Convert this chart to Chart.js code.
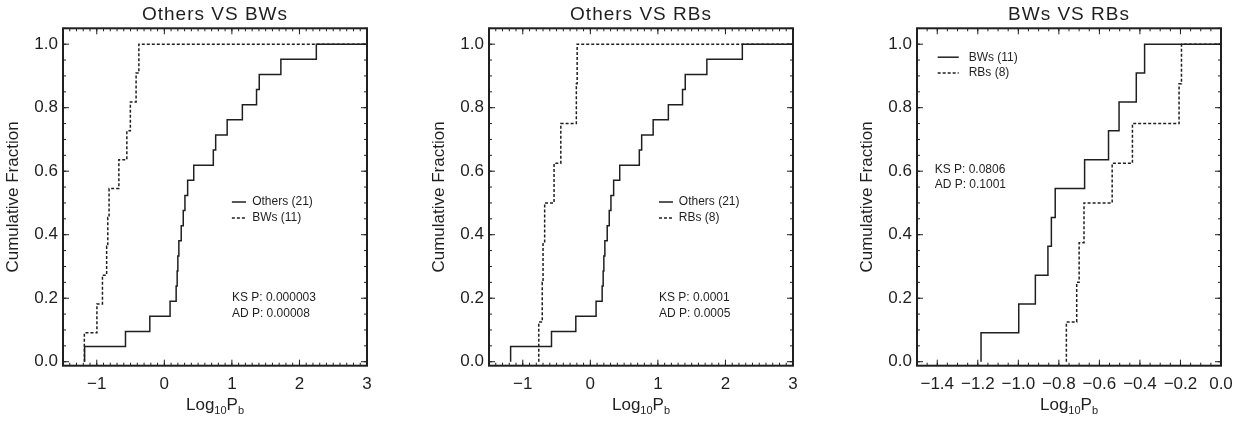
<!DOCTYPE html>
<html>
<head>
<meta charset="utf-8">
<script src="https://cdn.jsdelivr.net/npm/chart.js@4.4.1/dist/chart.umd.min.js"></script>
<style>
  html, body { margin: 0; padding: 0; background: #fff; }
  body { width: 1254px; height: 424px; position: relative; overflow: hidden; }
  .panel { position: absolute; top: 0; width: 387px; height: 424px; }
</style>
</head>
<body>
<div class="panel" style="left:-0.3px"><canvas id="c1"></canvas></div>
<div class="panel" style="left:426.3px"><canvas id="c2"></canvas></div>
<div class="panel" style="left:853.7px"><canvas id="c3"></canvas></div>
<script>
// log10 of orbital period, sorted
const othersPb = [-1.18, -0.575, -0.215, 0.085, 0.175, 0.19, 0.20, 0.215, 0.25, 0.28, 0.305,
                  0.345, 0.435, 0.725, 0.76, 0.93, 1.155, 1.365, 1.405, 1.725, 2.25];
const bwsPb = [-1.184, -0.998, -0.916, -0.854, -0.837, -0.818, -0.673, -0.555, -0.503, -0.418, -0.377];
const rbsPb = [-0.763, -0.712, -0.700, -0.676, -0.537, -0.437, -0.207, -0.195];

const yTicks = [0, 0.2, 0.4, 0.6, 0.8, 1.0];
const xTicksWide = [-1, 0, 1, 2, 3];
const xTicksNarrow = [-1.4, -1.2, -1.0, -0.8, -0.6, -0.4, -0.2, 0.0];

const INK = '#1f1f1f';
const FONT = '"Liberation Sans", Arial, sans-serif';

// empirical cumulative distribution as a stepped line
function ecdf(vals, xmax) {
  const n = vals.length;
  const pts = [{ x: vals[0], y: 0 }];
  vals.forEach((v, i) => pts.push({ x: v, y: (i + 1) / n }));
  pts.push({ x: xmax, y: 1 });
  return pts;
}

const minus = s => s.replace('-', '\u2212');

// box with inward ticks on all four sides, titles and in-plot notes (IDL look)
const idlFrame = {
  id: 'idlFrame',
  afterDraw(chart, args, o) {
    const { ctx, chartArea: a, scales: { x, y } } = chart;
    ctx.save();
    ctx.strokeStyle = INK;
    ctx.fillStyle = INK;

    ctx.lineWidth = 1;
    ctx.beginPath();
    const tickRun = (scale, step, len, isX) => {
      const start = Math.ceil((scale.min - 1e-9) / step) * step;
      for (let v = start; v <= scale.max + 1e-9; v += step) {
        const p = scale.getPixelForValue(v);
        if (isX) {
          ctx.moveTo(p, a.bottom); ctx.lineTo(p, a.bottom - len);
          ctx.moveTo(p, a.top); ctx.lineTo(p, a.top + len);
        } else {
          ctx.moveTo(a.left, p); ctx.lineTo(a.left + len, p);
          ctx.moveTo(a.right, p); ctx.lineTo(a.right - len, p);
        }
      }
    };
    tickRun(x, o.xMinor, 3, true);
    tickRun(x, o.xMajor, 6, true);
    tickRun(y, 0.05, 3, false);
    tickRun(y, 0.2, 6, false);
    ctx.stroke();

    ctx.lineWidth = 2;
    ctx.strokeRect(a.left, a.top, a.right - a.left, a.bottom - a.top);

    const cx = (a.left + a.right) / 2;
    // title
    ctx.font = '19px ' + FONT;
    ctx.letterSpacing = '1px';
    ctx.textAlign = 'center';
    ctx.textBaseline = 'alphabetic';
    ctx.fillText(o.title, cx, 20);
    ctx.letterSpacing = '0px';

    // y axis title
    ctx.save();
    ctx.translate(a.left - 49.5, (a.top + a.bottom) / 2);
    ctx.rotate(-Math.PI / 2);
    ctx.font = '17px ' + FONT;
    ctx.textBaseline = 'middle';
    ctx.fillText('Cumulative Fraction', 0, 0);
    ctx.restore();

    // x axis title Log10Pb with subscripts
    const parts = [['Log', 17, 0], ['10', 11, 4], ['P', 17, 0], ['b', 11, 4]];
    let w = 0;
    parts.forEach(p => { ctx.font = p[1] + 'px ' + FONT; w += ctx.measureText(p[0]).width; });
    let px = cx - w / 2;
    ctx.textAlign = 'left';
    parts.forEach(p => {
      ctx.font = p[1] + 'px ' + FONT;
      ctx.fillText(p[0], px, 410 + p[2]);
      px += ctx.measureText(p[0]).width;
    });

    // legend
    ctx.font = '12px ' + FONT;
    ctx.textBaseline = 'middle';
    ctx.lineWidth = 1.5;
    o.legend.forEach(item => {
      const yy = y.getPixelForValue(item.y);
      ctx.setLineDash(item.dash);
      ctx.beginPath();
      ctx.moveTo(x.getPixelForValue(o.legX[0]), yy);
      ctx.lineTo(x.getPixelForValue(o.legX[1]), yy);
      ctx.stroke();
      ctx.setLineDash([]);
      ctx.fillText(item.text, x.getPixelForValue(o.legX[2]), yy);
    });
    o.notes.forEach(n => ctx.fillText(n.text, x.getPixelForValue(o.noteX), y.getPixelForValue(n.y)));
    ctx.restore();
  }
};

function makeChart(id, cfg) {
  new Chart(document.getElementById(id), {
    type: 'line',
    data: {
      datasets: [
        { data: ecdf(cfg.solid, cfg.xmax), borderColor: INK, borderWidth: 1.5,
          stepped: 'before', pointRadius: 0, fill: false },
        { data: ecdf(cfg.dashed, cfg.xmax), borderColor: INK, borderWidth: 1.5,
          borderDash: [3, 2], stepped: 'before', pointRadius: 0, fill: false }
      ]
    },
    options: {
      responsive: true,
      maintainAspectRatio: false,
      animation: false,
      events: [],
      layout: { padding: { top: 28.3, right: 20, bottom: 18.3, left: 0 } },
      scales: {
        x: {
          type: 'linear', min: cfg.xmin, max: cfg.xmax,
          afterBuildTicks: s => { s.ticks = cfg.xTicks.map(v => ({ value: v })); },
          afterFit: s => { s.height = 40; },
          grid: { display: false, drawTicks: false },
          border: { display: false },
          ticks: {
            autoSkip: false, maxRotation: 0, padding: 8, color: INK,
            font: { family: FONT, size: 17 },
            callback: v => minus(cfg.xDigits ? v.toFixed(cfg.xDigits) : String(v))
          }
        },
        y: {
          min: -0.0125, max: 1.05,
          afterBuildTicks: s => { s.ticks = yTicks.map(v => ({ value: v })); },
          afterFit: s => { s.width = 63; },
          grid: { display: false, drawTicks: false },
          border: { display: false },
          ticks: {
            padding: 5, color: INK,
            font: { family: FONT, size: 17 },
            callback: v => v.toFixed(1)
          }
        }
      },
      plugins: {
        legend: { display: false },
        tooltip: { enabled: false },
        idlFrame: {
          title: cfg.title, xMajor: cfg.xMajor, xMinor: cfg.xMinor,
          legX: cfg.legX, legend: cfg.legend, noteX: cfg.noteX, notes: cfg.notes
        }
      }
    },
    plugins: [idlFrame]
  });
}

makeChart('c1', {
  title: 'Others VS BWs', solid: othersPb, dashed: bwsPb,
  xmin: -1.5, xmax: 3, xTicks: xTicksWide, xDigits: 0, xMajor: 1, xMinor: 0.1,
  legX: [1.0, 1.21, 1.3],
  legend: [{ text: 'Others (21)', y: 0.503, dash: [] }, { text: 'BWs (11)', y: 0.453, dash: [3, 2] }],
  noteX: 1.0,
  notes: [{ text: 'KS P: 0.000003', y: 0.202 }, { text: 'AD P: 0.00008', y: 0.152 }]
});

makeChart('c2', {
  title: 'Others VS RBs', solid: othersPb, dashed: rbsPb,
  xmin: -1.5, xmax: 3, xTicks: xTicksWide, xDigits: 0, xMajor: 1, xMinor: 0.1,
  legX: [1.016, 1.223, 1.31],
  legend: [{ text: 'Others (21)', y: 0.503, dash: [] }, { text: 'RBs (8)', y: 0.453, dash: [3, 2] }],
  noteX: 1.016,
  notes: [{ text: 'KS P: 0.0001', y: 0.202 }, { text: 'AD P: 0.0005', y: 0.152 }]
});

makeChart('c3', {
  title: 'BWs VS RBs', solid: bwsPb, dashed: rbsPb,
  xmin: -1.5, xmax: 0, xTicks: xTicksNarrow, xDigits: 1, xMajor: 0.2, xMinor: 0.05,
  legX: [-1.398, -1.294, -1.245],
  legend: [{ text: 'BWs (11)', y: 0.959, dash: [] }, { text: 'RBs (8)', y: 0.909, dash: [3, 2] }],
  noteX: -1.413,
  notes: [{ text: 'KS P: 0.0806', y: 0.606 }, { text: 'AD P: 0.1001', y: 0.559 }]
});
</script>
</body>
</html>
